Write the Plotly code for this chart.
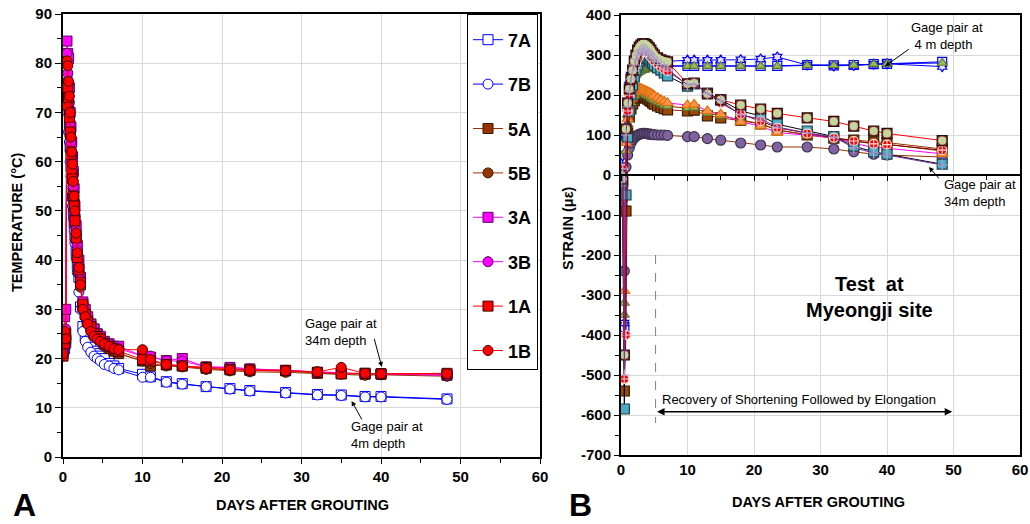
import plotly.graph_objects as go

W, H = 1030, 524
FONT = "Liberation Sans, Arial, sans-serif"

# ---------------- Panel A: temperature ----------------
days_a = [0, 0.2, 0.35, 0.5, 0.6, 0.7, 0.8, 0.9, 1.0, 1.1, 1.2, 1.3, 1.4, 1.5, 1.65, 1.8,
          2.0, 2.2, 2.5, 2.8, 3.1, 3.5, 3.9, 4.3, 4.7, 5.2, 5.8, 6.4, 7.0,
          10, 11, 13, 15, 18, 21, 23.5, 28, 32, 35, 38, 40, 48.3]

t_7a = [21.0, 22.0, 23.5, 77.5, 74.0, 71.0, 67.0, 63.0, 59.0, 56.0, 53.0, 50.0, 47.5, 45.0, 42.0, 39.0,
        36.5, 30.5, 26.5, 24.5, 23.5, 22.3, 21.5, 21.0, 20.5, 20.0, 19.0, 18.5, 18.0,
        16.8, 16.3, 15.3, 14.9, 14.3, 13.9, 13.5, 13.1, 12.7, 12.6, 12.3, 12.3, 11.8]
t_7b = [20.5, 21.5, 22.5, 72.0, 70.0, 66.0, 64.0, 60.0, 57.0, 54.0, 51.0, 48.5, 46.0, 43.5, 40.5, 37.5,
        33.5, 30.0, 25.5, 23.5, 22.3, 21.3, 20.5, 20.0, 19.5, 18.8, 18.5, 18.0, 17.7,
        16.2, 16.2, 15.2, 14.8, 14.3, 13.8, 13.4, 13.0, 12.6, 12.5, 12.2, 12.2, 11.7]
t_5a = [21.5, 23.0, 24.0, 76.0, 75.5, 72.0, 70.0, 66.5, 63.0, 60.0, 57.0, 54.0, 51.5, 48.5, 45.0, 41.0,
        38.0, 35.0, 30.5, 29.0, 28.0, 27.0, 26.0, 25.0, 24.0, 23.0, 22.0, 21.5, 21.0,
        19.5, 18.5, 18.7, 18.5, 18.0, 17.7, 17.6, 17.5, 17.0, 16.9, 16.8, 16.8, 16.6]
t_5b = [21.0, 22.5, 24.0, 75.0, 74.0, 71.0, 68.0, 65.0, 62.0, 59.0, 56.0, 53.0, 50.0, 47.0, 44.0, 40.5,
        37.5, 34.5, 30.0, 28.5, 27.0, 26.0, 25.0, 24.0, 23.5, 22.5, 22.0, 21.5, 21.0,
        19.5, 19.0, 18.5, 18.3, 17.8, 17.5, 17.3, 17.2, 17.0, 16.8, 16.6, 16.7, 16.4]
t_3a = [22.0, 28.5, 30.0, 84.5, 82.0, 81.0, 75.0, 70.0, 67.0, 64.0, 61.0, 58.0, 54.5, 51.0, 47.0, 43.0,
        40.0, 36.5, 31.5, 30.0, 28.5, 27.0, 26.0, 25.0, 24.5, 23.5, 23.0, 22.5, 22.5,
        20.5, 20.3, 19.6, 20.0, 18.3, 18.2, 17.9, 17.6, 17.2, 17.0, 17.0, 16.9, 16.8]
t_3b = [23.0, 24.0, 26.0, 82.0, 78.0, 76.0, 72.0, 68.0, 64.0, 61.0, 58.0, 55.0, 52.0, 49.0, 46.0, 42.0,
        39.0, 36.0, 31.0, 29.0, 28.0, 26.5, 25.5, 24.5, 24.0, 23.5, 23.0, 22.3, 22.0,
        20.5, 20.5, 19.5, 19.5, 18.3, 18.2, 17.9, 17.6, 17.3, 17.0, 16.9, 16.9, 16.6]
t_1a = [20.5, 23.0, 25.0, 71.5, 75.0, 73.0, 69.0, 66.0, 61.5, 58.0, 56.5, 53.0, 51.0, 48.0, 44.5, 40.5,
        38.0, 35.5, 31.0, 29.0, 27.5, 26.5, 25.0, 24.5, 24.0, 23.0, 22.5, 22.0, 21.5,
        19.8, 19.5, 18.8, 18.5, 18.2, 17.8, 17.7, 17.6, 17.2, 16.9, 17.0, 16.9, 17.0]
t_1b = [21.0, 25.5, 24.0, 80.5, 79.5, 76.3, 73.3, 70.0, 65.0, 62.0, 59.5, 56.0, 53.0, 50.0, 45.5, 41.5,
        38.5, 35.0, 30.0, 28.5, 27.0, 25.5, 24.5, 24.0, 23.5, 23.0, 22.5, 22.0, 21.8,
        21.8, 19.8, 18.8, 18.5, 18.0, 17.7, 17.6, 17.5, 17.3, 18.2, 17.0, 16.9, 16.9]

a_names = ["7A", "7B", "5A", "5B", "3A", "3B", "1A", "1B"]
a_values = [t_7a, t_7b, t_5a, t_5b, t_3a, t_3b, t_1a, t_1b]

# ---------------- Panel B: strain ----------------
days_b = [0, 0.25, 0.5, 0.75, 1.0, 1.25, 1.5, 1.75, 2.0, 2.25, 2.5, 2.75, 3.0, 3.25, 3.5, 3.75,
          4.0, 4.25, 4.5, 4.75, 5.0, 5.5, 6.0, 6.5, 7.0,
          10, 11, 13, 15, 18, 21, 23.5, 28, 32, 35, 38, 40, 48.3]

s_blue_sq = [-10, -20, -380, 100, 170, 210, 235, 250, 260, 266, 270, 272, 273, 273, 273, 273,
             273, 273, 273, 273, 273, 273, 273, 273, 272,
             273, 273, 273, 273, 273, 273, 273, 275, 274, 275, 277, 278, 283]
s_blue_star = [0, 48, -370, 120, 185, 225, 250, 265, 273, 278, 281, 283, 284, 285, 285, 285,
               285, 285, 285, 284, 284, 284, 284, 284, 284,
               287, 287, 287, 287, 288, 290, 295, 275, 273, 274, 277, 278, 271]
s_olive_hi = [-20, -30, -350, 90, 150, 190, 215, 232, 243, 250, 255, 258, 260, 262, 263, 264,
              265, 266, 267, 268, 268, 269, 270, 271, 272,
              272, 272, 272, 272, 272, 272, 272, 274, 274, 275, 277, 278, 280]
s_purple = [-30, -60, -240, 20, 50, 68, 80, 88, 93, 97, 100, 102, 103, 104, 104, 104,
            103, 102, 102, 101, 101, 100, 100, 100, 99,
            96, 96, 91, 87, 80, 75, 70, 70, 65, 58, 52, 50, 45]
s_brown = [-20, -90, -540, -90, 110, 145, 165, 178, 186, 192, 195, 197, 198, 197, 196, 193,
           190, 187, 184, 180, 177, 173, 169, 166, 163,
           160, 162, 148, 143, 137, 128, 113, 100, 92, 87, 83, 81, 65]
s_olive_lo = [-20, -40, -320, 60, 125, 160, 180, 192, 198, 203, 205, 206, 206, 205, 203, 200,
              198, 196, 193, 190, 187, 183, 179, 175, 172,
              167, 168, 155, 148, 138, 128, 112, 101, 93, 85, 79, 77, 60]
s_orange = [-10, -20, -290, 80, 140, 170, 190, 200, 207, 212, 215, 216, 216, 214, 212, 210,
            208, 206, 204, 201, 198, 193, 188, 184, 180,
            175, 176, 160, 152, 133, 122, 106, 100, 94, 79, 69, 67, 53]
s_teal = [-30, -20, -585, -50, 95, 160, 200, 225, 245, 262, 275, 285, 290, 293, 295, 295,
          293, 290, 285, 280, 275, 268, 262, 255, 248,
          222, 228, 205, 188, 160, 148, 127, 110, 96, 72, 58, 52, 27]
s_redcross = [0, 15, -510, -400, 160, 200, 230, 250, 265, 278, 290, 298, 305, 308, 310, 308,
              305, 300, 296, 290, 285, 278, 270, 265, 260,
              226, 229, 204, 180, 152, 135, 118, 104, 93, 85, 78, 76, 62]
s_green = [0, -10, -450, 115, 180, 215, 240, 262, 285, 300, 312, 320, 325, 328, 328, 326,
           322, 318, 312, 305, 300, 293, 288, 285, 283,
           228, 230, 203, 188, 175, 165, 154, 143, 134, 122, 110, 104, 86]
s_plus = [-10, 15, -500, 100, 170, 210, 240, 260, 275, 290, 300, 308, 312, 314, 314, 312,
          308, 304, 300, 295, 290, 283, 276, 270, 265,
          225, 228, 203, 186, 150, 140, 120, 105, 95, 68, 55, 50, 25]

ytick_b = [400, 300, 200, 100, 0, -100, -200, -300, -400, -500, -600, -700]
ytick_b_text = [str(v) for v in ytick_b]

fig = go.Figure()

# Panel A traces
a_styles = [
    ("square", "white", "#0000FF", "#0000FF"),
    ("circle", "white", "#0000FF", "#0000FF"),
    ("square", "#993300", "#993300", "#3a1a00"),
    ("circle", "#993300", "#993300", "#3a1a00"),
    ("square", "#FF00FF", "#FF00FF", "#5a005a"),
    ("circle", "#FF00FF", "#FF00FF", "#5a005a"),
    ("square", "#FF0000", "#FF0000", "#400000"),
    ("circle", "#FF0000", "#FF0000", "#400000"),
]
for name, vals, (sym, fill, lcol, mline) in zip(a_names, a_values, a_styles):
    fig.add_trace(go.Scatter(
        x=days_a, y=vals, name=name, mode="lines+markers", legendgroup=name,
        line=dict(color=lcol, width=1),
        marker=dict(symbol=sym, size=10, color=fill, line=dict(color=mline, width=1)),
        xaxis="x", yaxis="y", hoverinfo="x+y+name"))

# Panel B traces (no legend)
b_series = [
    (s_blue_sq, "square", "#DCE6F2", "#0000FF", "#0000FF", 9),
    (s_blue_star, "hexagram", "#E6E0EC", "#0000FF", "#0000FF", 8),
    (s_olive_hi, "triangle-up", "#9BBB59", "#5F7530", "#0000FF", 9),
    (s_purple, "circle", "#8064A2", "#3F3151", "#993300", 10),
    (s_brown, "square", "#984807", "#3a1a00", "#993300", 10),
    (s_olive_lo, "triangle-up", "#9BBB59", "#5F7530", "#993300", 9),
    (s_orange, "triangle-up", "#F79646", "#E46C0A", "#FF00FF", 10),
    (s_teal, "square", "#4BACC6", "#1F3F4F", "#000000", 10),
    (s_redcross, "circle-cross", "#FF0000", "#FFDDDD", "#800000", 9),
    (s_green, "square", "#953735", "#2a0a0a", "#FF0000", 10),
    (s_green, "circle", "#C4D79B", "#C4D79B", "rgba(0,0,0,0)", 7),
    (s_plus, "cross-thin", "#B3A2C7", "#B3A2C7", "#7030A0", 8),
]
for vals, sym, fill, mline, lcol, size in b_series:
    fig.add_trace(go.Scatter(
        x=days_b, y=vals, mode="lines+markers", showlegend=False,
        line=dict(color=lcol, width=1),
        marker=dict(symbol=sym, size=size, color=fill, line=dict(color=mline, width=1.2)),
        xaxis="x2", yaxis="y2"))

# empty trace so the zero-line axis of panel B is created
fig.add_trace(go.Scatter(x=[None], y=[None], xaxis="x3", yaxis="y2", showlegend=False, hoverinfo="skip"))

tickfont = dict(family=FONT, size=15, color="black", weight="bold")
grid = "#D9D9D9"

fig.update_layout(
    width=W, height=H, margin=dict(l=0, r=0, t=0, b=0, autoexpand=False),
    paper_bgcolor="white", plot_bgcolor="white",
    font=dict(family=FONT, color="black"),
    showlegend=True,
    legend=dict(x=467 / W, y=1 - 14 / H, xanchor="left", yanchor="top",
                bgcolor="white", bordercolor="black", borderwidth=1,
                title=dict(text=" ", font=dict(size=5)),
                font=dict(family=FONT, size=18, color="black", weight="bold"),
                traceorder="grouped", tracegroupgap=18, itemwidth=30),
    xaxis=dict(domain=[63 / W, 540 / W], range=[0, 60], dtick=10, anchor="y",
               showline=True, linecolor="black", linewidth=1.5, mirror=True,
               showgrid=True, gridcolor=grid, zeroline=False,
               ticks="outside", ticklen=5, tickcolor="black", tickfont=tickfont,
               minor=dict(ticks="outside", dtick=5, ticklen=4, tickcolor="black", showgrid=False)),
    yaxis=dict(domain=[1 - 457 / H, 1 - 14 / H], range=[0, 90], dtick=10, anchor="x",
               showline=True, linecolor="black", linewidth=2, mirror=True,
               showgrid=True, gridcolor=grid, zeroline=False,
               ticks="outside", ticklen=6, tickcolor="black", tickfont=tickfont,
               minor=dict(ticks="outside", dtick=5, ticklen=4, tickcolor="black", showgrid=False)),
    xaxis2=dict(domain=[621 / W, 1020 / W], range=[0, 60], dtick=10, anchor="y2",
                showline=True, linecolor="black", linewidth=1.5, mirror=True,
                showgrid=True, gridcolor=grid, zeroline=False,
                ticks="", tickfont=tickfont),
    yaxis2=dict(domain=[1 - 455 / H, 1 - 15 / H], range=[-700, 400], anchor="x2",
                tickvals=ytick_b, ticktext=ytick_b_text,
                showline=True, linecolor="black", linewidth=2, mirror=True,
                showgrid=True, gridcolor=grid, zeroline=False,
                ticks="outside", ticklen=5, tickcolor="black", tickfont=tickfont,
                minor=dict(ticks="outside", dtick=50, ticklen=4, tickcolor="black", showgrid=False)),
    xaxis3=dict(overlaying="x2", anchor="free", position=1 - 175 / H, side="bottom",
                range=[0, 60], dtick=10, showticklabels=False, showgrid=False, zeroline=False,
                showline=True, linecolor="black", linewidth=2,
                ticks="outside", ticklen=5, tickcolor="black",
                minor=dict(ticks="outside", dtick=5, ticklen=4, tickcolor="black", showgrid=False)),
)

ann = []
def ptext(x, y, text, size, bold=False, angle=0, xanchor="center"):
    ann.append(dict(x=x / W, y=1 - y / H, xref="paper", yref="paper", text=text, showarrow=False,
                    textangle=angle, xanchor=xanchor, yanchor="middle",
                    font=dict(family=FONT, size=size, color="black", weight="bold" if bold else "normal")))

ptext(17, 223, "TEMPERATURE (°C)", 14.5, True, -90)
ptext(302, 505, "DAYS AFTER GROUTING", 14.5, True)
ptext(818, 502, "DAYS AFTER GROUTING", 14.5, True)
ptext(568, 228, "STRAIN (με)", 14.5, True, -90)
ptext(24, 505, "A", 32, True)
ptext(580, 505, "B", 32, True)

def dtext(x, y, text, size, xref, yref, bold=False, xanchor="left", align="left"):
    ann.append(dict(x=x, y=y, xref=xref, yref=yref, text=text, showarrow=False,
                    xanchor=xanchor, yanchor="middle", align=align,
                    font=dict(family=FONT, size=size, color="black", weight="bold" if bold else "normal")))

def arrow(x, y, ax, ay, xref, yref, both=False, width=1):
    ann.append(dict(x=x, y=y, ax=ax, ay=ay, xref=xref, yref=yref, axref=xref, ayref=yref,
                    text="", showarrow=True, arrowhead=2, arrowsize=1, arrowwidth=width,
                    arrowcolor="black", arrowside="end+start" if both else "end",
                    startarrowhead=2, startarrowsize=1))

# Panel A notes
dtext(30.2, 25.3, "Gage pair at<br>34m depth", 13, "x", "y")
arrow(40.1, 18.3, 39.1, 24.3, "x", "y")
dtext(36.0, 4.4, "Gage pair at<br>4m depth", 13, "x", "y")
arrow(36.3, 11.4, 37.7, 7.3, "x", "y")

# Panel B notes
dtext(43.3, 347, "Gage pair at<br> 4 m depth", 13, "x2", "y2")
arrow(39.7, 272, 43.5, 317, "x2", "y2")
dtext(48.3, -45, "Gage pair at<br>34m depth", 13, "x2", "y2")
arrow(46.3, 20, 48.0, -12, "x2", "y2")
dtext(37.3, -305, "Test  at<br>Myeongji site", 20, "x2", "y2", bold=True, xanchor="center", align="center")
dtext(5.9, -562, "Recovery of Shortening Followed by Elongation", 13, "x2", "y2")
arrow(49.8, -592, 5.2, -592, "x2", "y2", both=True, width=1.5)

fig.update_layout(annotations=ann)
fig.add_shape(type="line", xref="x2", yref="y2", x0=5.2, x1=5.2, y0=-200, y1=-620,
              line=dict(color="#808080", width=1, dash="dash"))

fig.write_html("out.html", config={"displayModeBar": False},
               post_script="document.body.style.margin='0px';")
